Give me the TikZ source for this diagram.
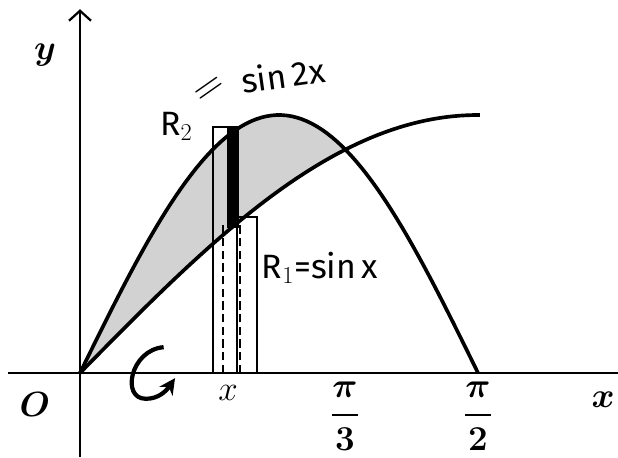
\documentclass[tikz,border=0pt]{standalone}
\usepackage{amsmath}
\usepackage{fontspec}
\setsansfont{Fira Sans}
\usetikzlibrary{arrows.meta}

\begin{document}
\begin{tikzpicture}[
        x=6.335cm, y=6.45cm,
        eje/.style={line width=1.6pt},
        curva/.style={line width=2.6pt, line join=round},
        franja/.style={line width=1.6pt},
        rotulo/.style={font=\fontsize{26}{30}\selectfont\boldmath, inner sep=0pt},
        mano/.style={font=\sffamily\fontsize{24}{28}\selectfont, inner sep=0pt}
    ]
        \useasboundingbox (-0.3157,-0.3256) rectangle (2.1231,1.4457);
        % region entre las curvas
        \fill[gray!35] plot[domain=0:pi/3, samples=50] (\x,{sin(2*\x r)})
            -- plot[domain=pi/3:0, samples=50] (\x,{sin(\x r)}) -- cycle;
        % ejes
        \draw[eje, line width=2pt] (-0.284,0) -- (2.1231,0);
        \draw[eje, -{Straight Barb[length=2.5mm, width=5.5mm]}] (0,-0.3256) -- (0,1.41);
        % curvas
        \draw[curva] plot[domain=0:pi/2, samples=80] (\x,{sin(2*\x r)});
        \draw[curva] plot[domain=0:1.5785, samples=60] (\x,{sin(\x r)});
        % franjas
        \draw[franja] (0.525,0) rectangle (0.620,0.953);
        \fill (0.580,0.562) rectangle (0.626,0.953);
        \draw[franja] (0.584,0.605) -- (0.6985,0.605) -- (0.6985,0) -- (0.525,0);
        \draw[franja, dash pattern=on 6pt off 3pt] (0.564,0) -- (0.564,0.58);
        \draw[franja, dash pattern=on 6pt off 3pt] (0.631,0) -- (0.631,0.59);
        % giro
        \draw[line width=3pt, -{Stealth[length=4mm, width=4mm]}] (0.33,0.10)
            .. controls (0.2,0.09) and (0.16,-0.1) .. (0.26,-0.1)
            .. controls (0.31,-0.1) and (0.34,-0.07) .. (0.375,-0.02);
        % rotulos
        \node[rotulo] (ejey) at (-0.138,1.232) {$y$};
        \node[rotulo] (origen) at (-0.178,-0.124) {$O$};
        \node[rotulo] (ejex) at (2.064,-0.105) {$x$};
        \node[rotulo] (pitercio) at (1.046,-0.167) {$\dfrac{\pi}{3}$};
        \node[rotulo] (pimedio) at (1.5706,-0.167) {$\dfrac{\pi}{2}$};
        \node[mano, font=\fontsize{28}{30}\selectfont] (xpunto) at (0.584,-0.078) {$x$};
        \node[mano] (radiodos) at (0.38,0.955) {R$_2$};
        \node[mano, font=\fontsize{30}{32}\selectfont, rotate=35] (igual) at (0.515,1.095) {=};
        \node[mano, rotate=8] (senodos) at (0.801,1.155) {sin\,2x};
        \node[mano] (radiouno) at (0.947,0.407) {R$_1$=sin\,x};
\end{tikzpicture}
\end{document}
